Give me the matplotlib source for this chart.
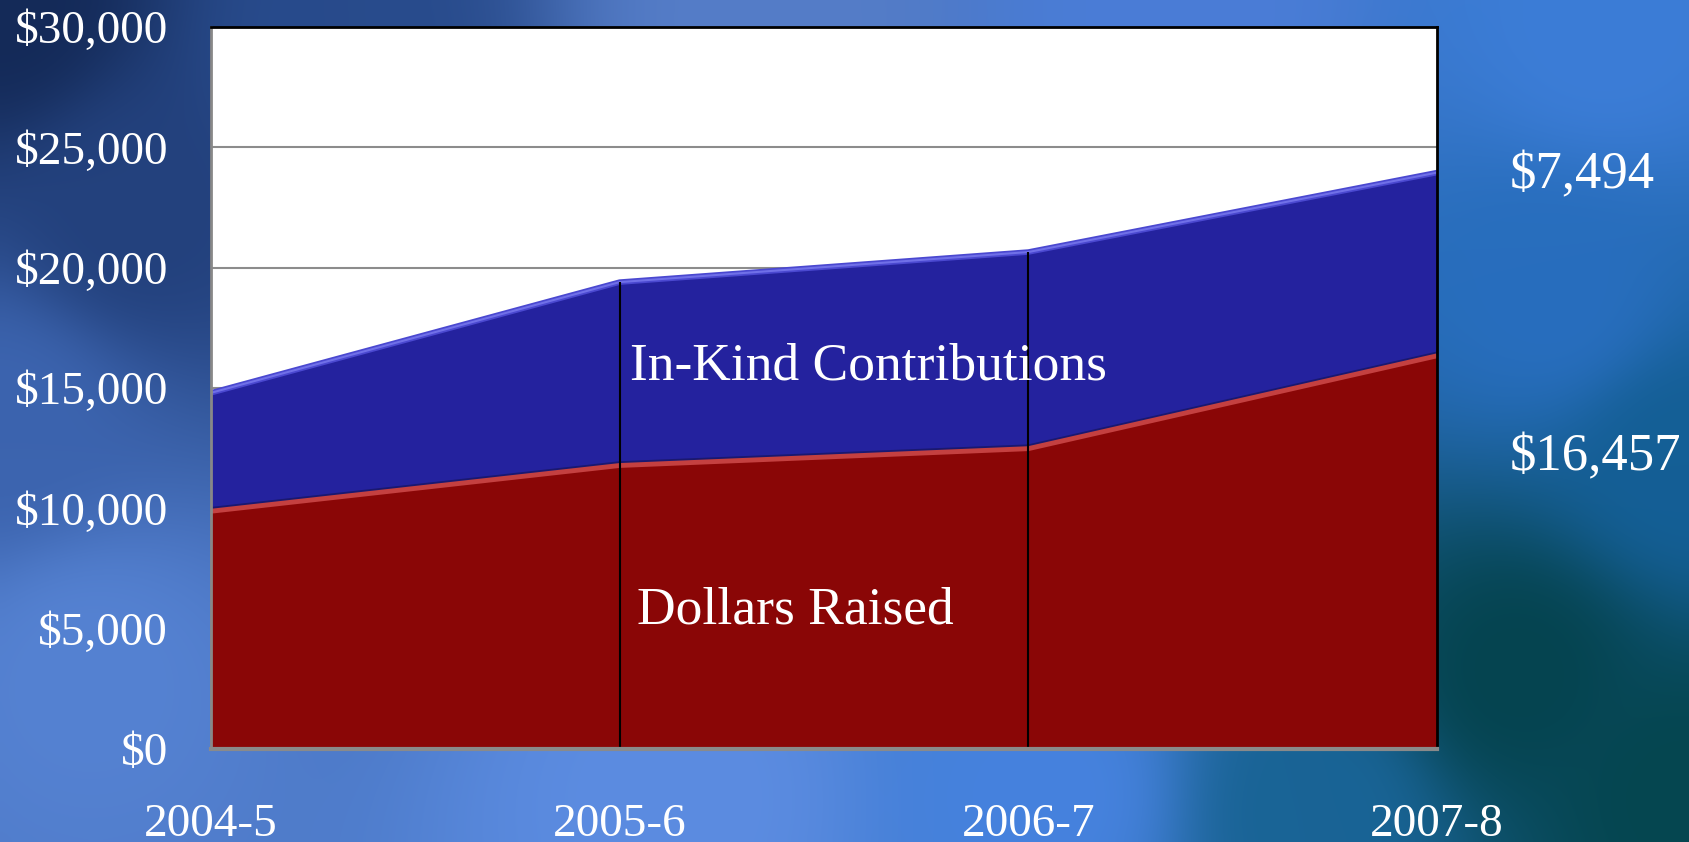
import numpy as np
import matplotlib
matplotlib.use("Agg")
import matplotlib.pyplot as plt
from matplotlib.ticker import FuncFormatter

# ---- data ----
categories = ["2004-5", "2005-6", "2006-7", "2007-8"]
dollars_raised = [10000, 11900, 12600, 16457]
in_kind = [4800, 7500, 8050, 7494]
y_ticks = [0, 5000, 10000, 15000, 20000, 25000, 30000]
series_names = ["Dollars Raised", "In-Kind Contributions"]
end_labels = ["$16,457", "$7,494"]

W, H, DPI = 1689, 842, 100
fig = plt.figure(figsize=(W / DPI, H / DPI), dpi=DPI)
plt.rcParams['font.family'] = ['Liberation Serif', 'DejaVu Serif']

# ---- background gradient (decoration) ----
bg = fig.add_axes([0, 0, 1, 1])
bg.set_axis_off()
ny, nx = 120, 240
yy, xx = np.mgrid[0:1:ny * 1j, 0:1:nx * 1j]  # y=0 top
ctrl = [
    (0.00, 0.00, (20, 42, 88)),
    (0.08, 0.25, (35, 65, 125)),
    (0.20, 0.05, (40, 75, 140)),
    (0.45, 0.02, (85, 125, 200)),
    (0.70, 0.02, (75, 125, 215)),
    (0.95, 0.03, (60, 125, 215)),
    (0.00, 0.50, (60, 100, 175)),
    (0.05, 0.80, (85, 130, 210)),
    (0.40, 0.95, (92, 140, 225)),
    (0.62, 0.95, (70, 130, 222)),
    (0.78, 0.97, (25, 100, 150)),
    (0.90, 0.80, (5, 68, 80)),
    (1.00, 0.95, (5, 70, 80)),
    (0.92, 0.35, (40, 110, 190)),
    (1.00, 0.55, (20, 95, 150)),
]
num = np.zeros((ny, nx, 3))
den = np.zeros((ny, nx))
for cx, cy, col in ctrl:
    d2 = (xx - cx) ** 2 + ((yy - cy) * 0.5) ** 2 + 1e-4
    w = 1.0 / d2 ** 1.6
    num += w[..., None] * np.array(col)[None, None, :]
    den += w
img = (num / den[..., None]) / 255.0
bg.imshow(img, extent=[0, 1, 0, 1], aspect="auto", interpolation="bicubic")
bg.set_xlim(0, 1)
bg.set_ylim(0, 1)

# ---- main axes ----
ax = fig.add_axes([211 / W, 93 / H, 1226 / W, 722 / H])
ax.set_facecolor("white")
x = np.arange(len(categories))
dr = np.array(dollars_raised, dtype=float)
ik = np.array(in_kind, dtype=float)
total = dr + ik

red = "#8A0606"
blue = "#24229E"
ax.fill_between(x, 0, dr, color=red, zorder=2, linewidth=0)
ax.fill_between(x, dr, total, color=blue, zorder=2, linewidth=0)
# bevel highlights
ax.plot(x, total, color="#4a48d0", lw=4, zorder=3, solid_capstyle="butt")
ax.plot(x, total, color="#7070e8", lw=1.5, zorder=3.1, solid_capstyle="butt")
ax.plot(x, dr, color="#1a1870", lw=2, zorder=3)
ax.plot(x, dr - 120, color="#c44040", lw=3.5, zorder=3.1, solid_capstyle="butt")

# drop lines
ax.vlines(x[1:-1], 0, total[1:-1], color="black", lw=1.5, zorder=4)

ax.set_xlim(x[0], x[-1])
ax.set_ylim(y_ticks[0], y_ticks[-1])
ax.set_yticks(y_ticks)
ax.yaxis.set_major_formatter(FuncFormatter(lambda v, p: f"${v:,.0f}"))
ax.set_xticks(x)
ax.set_xticklabels(categories)
ax.grid(axis="y", color="#8c8c8c", lw=1.5, zorder=1)
ax.set_axisbelow(True)
ax.tick_params(axis="y", length=0, pad=31, labelsize=34, labelcolor="white")
ax.tick_params(axis="x", length=0, pad=39, labelsize=34, labelcolor="white")

for s in ["top", "right"]:
    ax.spines[s].set_color("black")
    ax.spines[s].set_linewidth(2)
ax.spines["left"].set_color("#888888")
ax.spines["left"].set_linewidth(2)
ax.spines["bottom"].set_color("#8a8a8a")
ax.spines["bottom"].set_linewidth(3)
for s in ax.spines.values():
    s.set_zorder(5)

# series labels inside areas
ax.text(x[1] + 0.025, dr[1] + 4000, series_names[1], color="white",
        fontsize=38.5, ha="left", va="center", zorder=6)
ax.text(x[1] + 0.042, 5750, series_names[0], color="white",
        fontsize=38.5, ha="left", va="center", zorder=6)

# end labels to the right
ax.text(1.059, 1 - (175 - 27) / 722, end_labels[1], transform=ax.transAxes,
        color="white", fontsize=38, ha="left", va="center")
ax.text(1.059, 1 - (457 - 27) / 722, end_labels[0], transform=ax.transAxes,
        color="white", fontsize=38, ha="left", va="center")

fig.savefig("out.png", dpi=DPI)
